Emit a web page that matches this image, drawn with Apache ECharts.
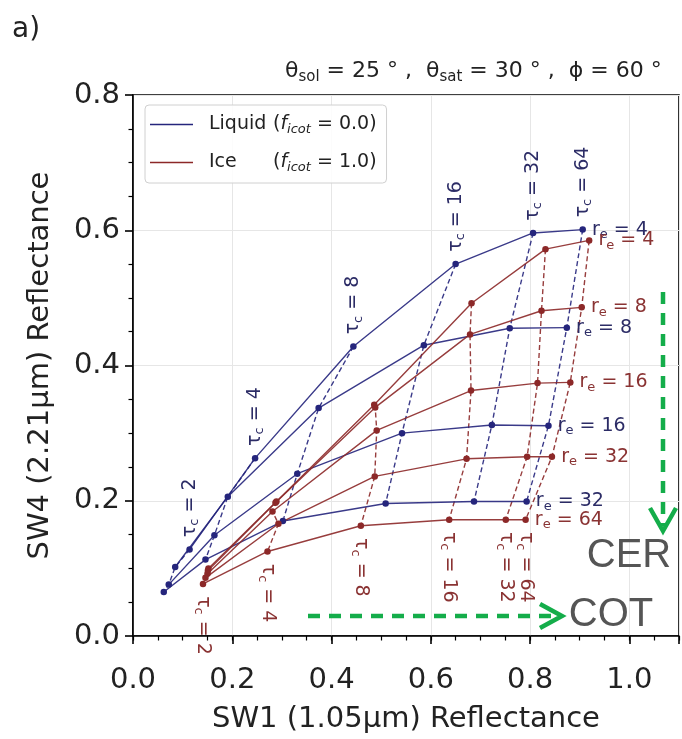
<!DOCTYPE html>
<html><head><meta charset="utf-8">
<script src="https://cdn.jsdelivr.net/npm/echarts@6/dist/echarts.min.js"></script>
<style>html,body{margin:0;padding:0;background:#fff}#c{width:682px;height:739px}</style>
</head><body><div id="c"></div>
<script>
// ---- data ----
const tcValues = [2, 4, 8, 16, 32, 64];
const liquidRe = [4, 8, 16, 32];
const iceRe = [4, 8, 16, 32, 64];
// SW1 (x) and SW4 (y) reflectance; rows = r_e, columns = tau_c
const liquidX = [
  [0.114, 0.246, 0.444, 0.650, 0.806, 0.906],
  [0.085, 0.191, 0.374, 0.586, 0.759, 0.874],
  [0.072, 0.164, 0.331, 0.542, 0.723, 0.837],
  [0.062, 0.146, 0.302, 0.509, 0.687, 0.793]
];
const liquidY = [
  [0.128, 0.263, 0.428, 0.550, 0.596, 0.601],
  [0.102, 0.206, 0.337, 0.430, 0.455, 0.456],
  [0.076, 0.149, 0.240, 0.300, 0.312, 0.311],
  [0.065, 0.113, 0.170, 0.196, 0.199, 0.199]
];
const iceX = [
  [0.152, 0.289, 0.486, 0.682, 0.831, 0.919],
  [0.151, 0.287, 0.488, 0.679, 0.823, 0.904],
  [0.150, 0.281, 0.491, 0.681, 0.815, 0.881],
  [0.146, 0.293, 0.487, 0.672, 0.794, 0.844],
  [0.141, 0.271, 0.459, 0.637, 0.751, 0.791]
];
const iceY = [
  [0.100, 0.199, 0.342, 0.492, 0.572, 0.585],
  [0.097, 0.197, 0.338, 0.446, 0.481, 0.486],
  [0.092, 0.184, 0.304, 0.363, 0.374, 0.375],
  [0.086, 0.166, 0.236, 0.262, 0.265, 0.265],
  [0.077, 0.125, 0.163, 0.172, 0.172, 0.172]
];
const xTicks = ['0.0', '0.2', '0.4', '0.6', '0.8', '1.0'];
const yTicks = ['0.0', '0.2', '0.4', '0.6', '0.8'];

// ---- styling ----
const FONT = 'DejaVu Sans';
const BLUE = '#25257c', RED = '#8c2828';
const BLUE_TXT = '#2c2c66', RED_TXT = '#8a3333';

function richFor(color) {
  return {
    t: { fontFamily: FONT, fontSize: 19, color: color },
    s: { fontFamily: FONT, fontSize: 13, color: color, padding: [10, 0, 0, 0] }
  };
}

const series = [];
function buildPhase(name, reList, X, Y, color, txtColor, tcLabelSide) {
  // r_e curves (solid, with markers)
  reList.forEach((re, i) => {
    const data = tcValues.map((tc, j) => {
      const item = { value: [X[i][j], Y[i][j]] };
      if (j === tcValues.length - 1) {
        item.label = {
          show: true, position: 'right', distance: 6,
          formatter: '{t|r}{s|e}{t| = ' + re + '}',
          rich: richFor(txtColor)
        };
      }
      return item;
    });
    series.push({
      name: name, type: 'line', data: data, xAxisIndex: 0,
      symbol: 'circle', symbolSize: 6.5, z: 3,
      itemStyle: { color: color },
      lineStyle: { color: color, width: 1.4, opacity: 0.9 },
      emphasis: { disabled: true }, animation: false
    });
  });
  // tau_c curves (dashed)
  tcValues.forEach((tc, j) => {
    const data = reList.map((re, i) => {
      const item = { value: [X[i][j], Y[i][j]] };
      const isLabelPt = tcLabelSide === 'top' ? i === 0 : i === reList.length - 1;
      if (isLabelPt) {
        item.label = {
          show: true,
          position: tcLabelSide,
          distance: 12,
          rotate: tcLabelSide === 'top' ? 90 : -90,
          align: 'left', verticalAlign: 'middle',
          formatter: '{t|τ}{s|c}{t| = ' + tc + '}',
          rich: richFor(txtColor)
        };
      }
      return item;
    });
    series.push({
      name: name, type: 'line', data: data, xAxisIndex: 0,
      symbol: 'circle', symbolSize: 0.5, showSymbol: true, z: 2,
      itemStyle: { color: color },
      lineStyle: { color: color, width: 1.4, type: [5, 3], opacity: 0.9 },
      labelLayout: { hideOverlap: false },
      emphasis: { disabled: true }, animation: false
    });
  });
}
buildPhase('Liquid', liquidRe, liquidX, liquidY, BLUE, BLUE_TXT, 'top');
buildPhase('Ice', iceRe, iceX, iceY, RED, RED_TXT, 'bottom');

const GREEN = '#14ad4a';
const option = {
  animation: false,
  backgroundColor: '#fff',
  title: {
    text: '{m|θ}{s|sol}{m| = 25 ° ,  θ}{s|sat}{m| = 30 ° ,  ϕ = 60 °}',
    left: 280, top: 53,
    textStyle: {
      rich: {
        m: { fontFamily: FONT, fontSize: 22, fontWeight: 'normal', color: '#222' },
        s: { fontFamily: FONT, fontSize: 15, fontWeight: 'normal', color: '#222', padding: [12, 0, 0, 0] }
      }
    }
  },
  legend: {
    data: ['Liquid', 'Ice'],
    orient: 'vertical', left: 145, top: 105,
    icon: 'rect', itemWidth: 43, itemHeight: 1.6, itemGap: 17,
    padding: [10, 10, 9, 5],
    backgroundColor: 'rgba(255,255,255,0.85)',
    borderColor: '#d0d0d0', borderWidth: 1, borderRadius: 4,
    selectedMode: false,
    formatter: function (n) {
      return n === 'Liquid'
        ? '{n|Liquid}{t|(}{f|f}{s|icot}{t| = 0.0)}'
        : '{n|Ice}{t|(}{f|f}{s|icot}{t| = 1.0)}';
    },
    textStyle: {
      rich: {
        n: { fontFamily: FONT, fontSize: 19, color: '#222', width: 64, padding: [0, 0, 0, 11] },
        t: { fontFamily: FONT, fontSize: 19, color: '#222' },
        f: { fontFamily: FONT, fontSize: 19, color: '#222', fontStyle: 'italic' },
        s: { fontFamily: FONT, fontSize: 13, color: '#222', fontStyle: 'italic', padding: [10, 0, 0, 0] }
      }
    }
  },
  grid: {
    left: 133, right: 2, top: 95, bottom: 98,
    show: true, borderColor: '#000', borderWidth: 1.6, backgroundColor: 'transparent'
  },
  xAxis: [{
    type: 'value', min: 0, max: 1.1, interval: 0.2,
    name: 'SW1 (1.05µm) Reflectance', nameLocation: 'middle', nameGap: 69,
    nameTextStyle: { fontFamily: FONT, fontSize: 29, color: '#222' },
    axisLine: { show: true, onZero: false, lineStyle: { color: '#000', width: 1.6 } },
    axisTick: { show: true, inside: false, length: 8, lineStyle: { color: '#000', width: 1.6 } },
    axisLabel: {
      margin: 30, fontFamily: FONT, fontSize: 29, color: '#222',
      formatter: function (v) { const k = Math.round(v / 0.2); return (Math.abs(v - k * 0.2) < 1e-6 && k < xTicks.length) ? xTicks[k] : ''; }
    },
    splitLine: { show: true, lineStyle: { color: '#e6e6e6', width: 1 } }
  }, {
    type: 'value', min: 0, max: 1.1, interval: 0.05, position: 'bottom',
    axisLine: { show: true, onZero: false, lineStyle: { color: '#000', width: 1, opacity: 0 } },
    axisLabel: { show: false }, splitLine: { show: false },
    axisTick: { show: true, inside: false, length: 4.5, lineStyle: { color: '#000', width: 1.2 } }
  }],
  yAxis: {
    type: 'value', min: 0, max: 0.8, interval: 0.2,
    name: 'SW4 (2.21µm) Reflectance', nameLocation: 'middle', nameGap: 78,
    nameTextStyle: { fontFamily: FONT, fontSize: 29, color: '#222' },
    axisLine: { show: true, onZero: false, lineStyle: { color: '#000', width: 1.6 } },
    axisTick: { show: true, inside: false, length: 8, lineStyle: { color: '#000', width: 1.6 } },
    minorTick: { show: true, splitNumber: 4, length: 4.5, lineStyle: { color: '#000', width: 1.2 } },
    axisLabel: {
      margin: 13, fontFamily: FONT, fontSize: 29, color: '#222',
      formatter: function (v) { const k = Math.round(v / 0.2); return yTicks[k] || ''; }
    },
    splitLine: { show: true, lineStyle: { color: '#e6e6e6', width: 1 } }
  },
  series: series,
  graphic: [
    { type: 'text', left: 12, top: 16, style: { text: 'a)', font: '28px "DejaVu Sans"', fill: '#222' } },
    { type: 'line', shape: { x1: 663, y1: 292, x2: 663, y2: 526 }, style: { stroke: GREEN, lineWidth: 4.5, lineDash: [12, 9] }, z: 10 },
    { type: 'polyline', shape: { points: [[650, 508], [663, 531], [676, 508]] }, style: { stroke: GREEN, lineWidth: 4.5, fill: null }, z: 10 },
    { type: 'line', shape: { x1: 308, y1: 616, x2: 558, y2: 616 }, style: { stroke: GREEN, lineWidth: 4.5, lineDash: [12, 9] }, z: 10 },
    { type: 'polyline', shape: { points: [[540, 604], [562, 616], [540, 628]] }, style: { stroke: GREEN, lineWidth: 4.5, fill: null }, z: 10 },
    { type: 'text', x: 629, y: 556, style: { text: 'CER', font: '40px "Liberation Sans"', fill: '#555', align: 'center', verticalAlign: 'middle' }, z: 10 },
    { type: 'text', x: 611, y: 615, style: { text: 'COT', font: '40px "Liberation Sans"', fill: '#555', align: 'center', verticalAlign: 'middle' }, z: 10 }
  ]
};
const chart = echarts.init(document.getElementById('c'), null, { renderer: 'canvas' });
chart.setOption(option);
</script>
</body></html>
